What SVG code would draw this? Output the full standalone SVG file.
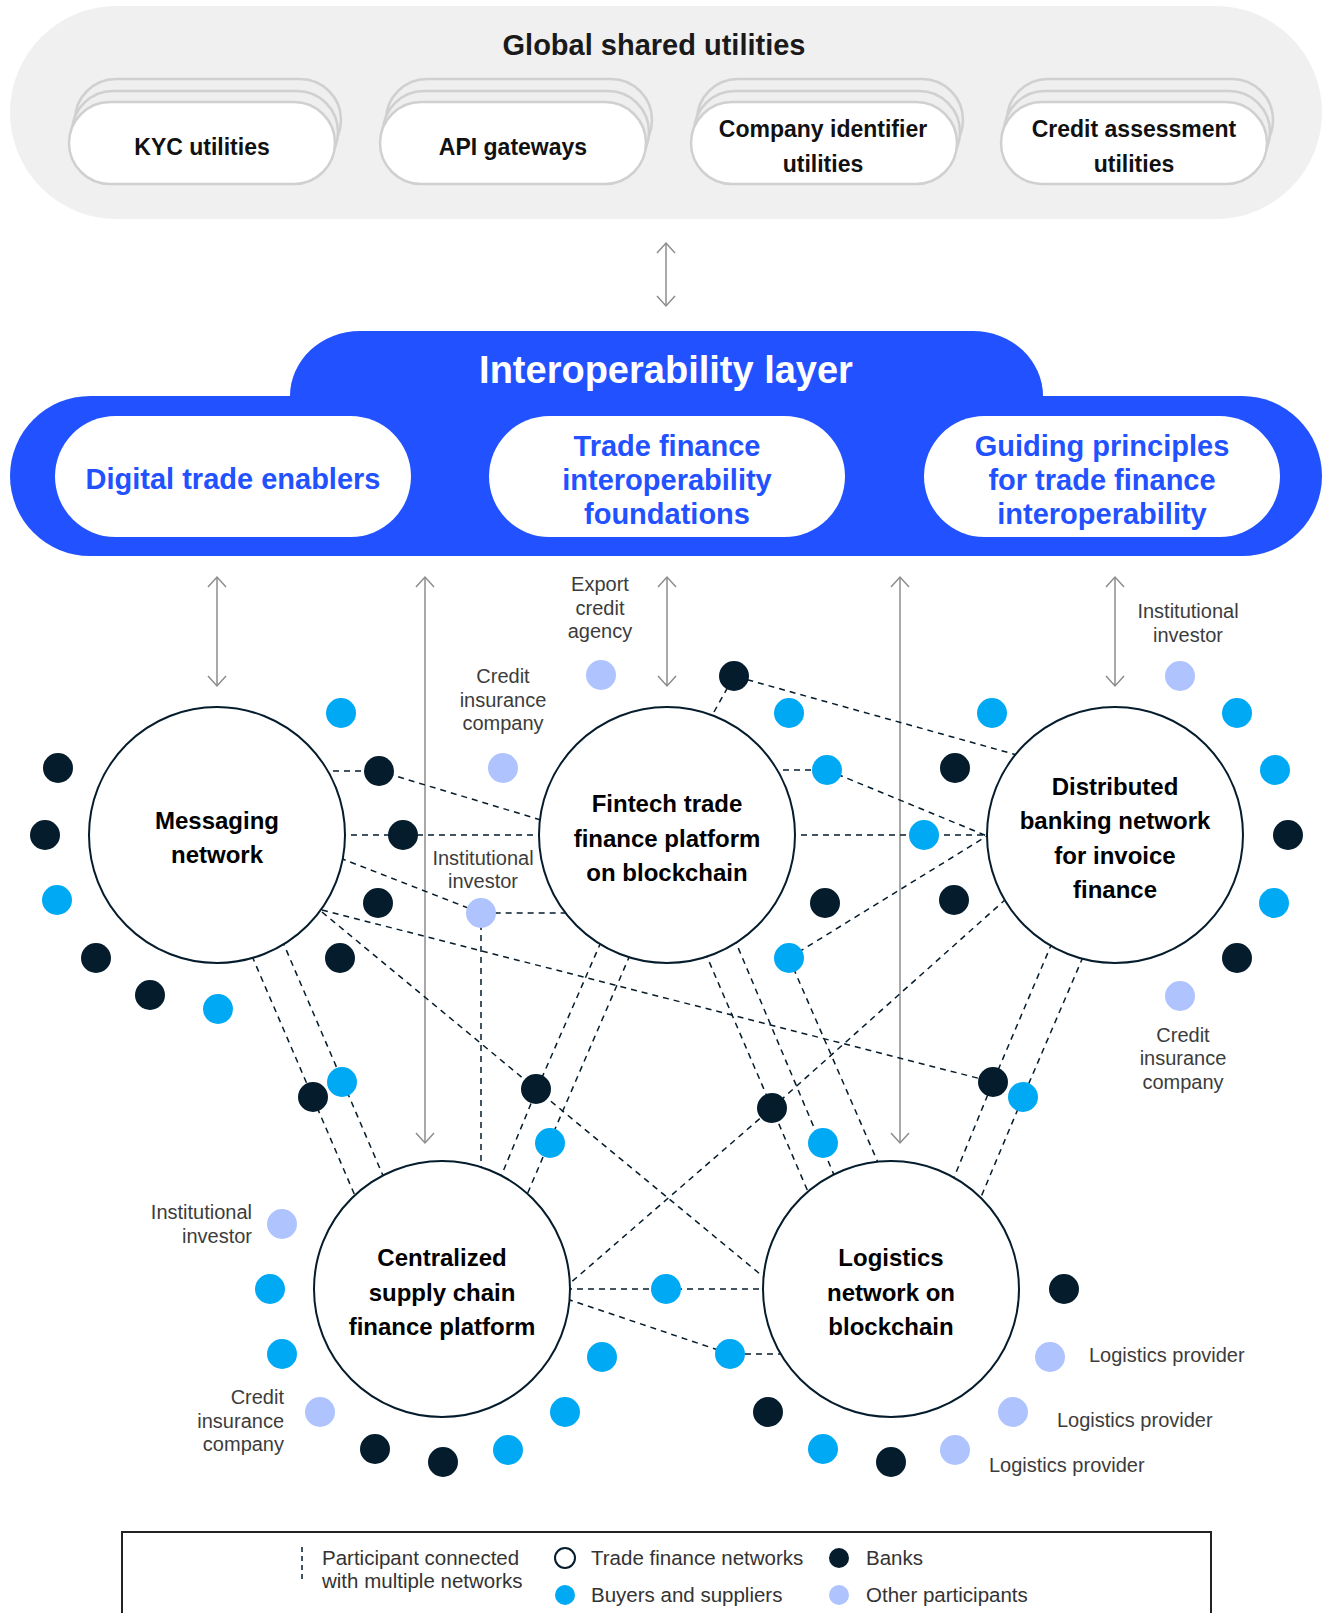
<svg xmlns="http://www.w3.org/2000/svg" width="1324" height="1613" viewBox="0 0 1324 1613">
<style>
.bg{fill:#f0f0f0}
.pb{fill:#efefef;stroke:#d0d0d0;stroke-width:2.5}
.pf{fill:#fff;stroke:#d0d0d0;stroke-width:2.5}
.blue{fill:#2251ff}
.ip{fill:#fff}
.net{fill:#fff;stroke:#051c2c;stroke-width:2}
.bank{fill:#051c2c}
.buyer{fill:#00a9f4}
.other{fill:#afc3ff}
.dash{fill:none;stroke:#051c2c;stroke-width:1.5;stroke-dasharray:6 5}
.arr{fill:none;stroke:#8c8c8c;stroke-width:1.5;marker-start:url(#ah);marker-end:url(#ah)}
.tt{font-family:"Liberation Sans",Arial,sans-serif;font-weight:bold;font-size:29px;fill:#1a1a1a;text-anchor:middle}
.tu{font-family:"Liberation Sans",Arial,sans-serif;font-weight:bold;font-size:23px;fill:#111;text-anchor:middle}
.ti{font-family:"Liberation Sans",Arial,sans-serif;font-weight:bold;font-size:38px;fill:#fff;text-anchor:middle}
.tp{font-family:"Liberation Sans",Arial,sans-serif;font-weight:bold;font-size:29px;fill:#2251ff;text-anchor:middle}
.tn{font-family:"Liberation Sans",Arial,sans-serif;font-weight:bold;font-size:24px;fill:#000;text-anchor:middle}
.tl{font-family:"Liberation Sans",Arial,sans-serif;font-size:20px;fill:#3c3c3c;text-anchor:middle}
.tr{text-anchor:end}
.ts{text-anchor:start}
.lg{font-family:"Liberation Sans",Arial,sans-serif;font-size:20.5px;fill:#333}
</style>
<defs>
<marker id="ah" viewBox="0 0 12 20" refX="11" refY="10" markerWidth="12" markerHeight="20" markerUnits="userSpaceOnUse" orient="auto-start-reverse" overflow="visible">
<path d="M1,1 L11,10 L1,19" fill="none" stroke="#8c8c8c" stroke-width="1.5"/>
</marker>
</defs>
<rect width="1324" height="1613" fill="#fff"/>

<g id="global-shared-utilities">
<rect class="bg" x="10" y="6" width="1312" height="213" rx="106.5"/>
<text class="tt" x="654" y="55">Global shared utilities</text>
</g>
<g id="kyc-utilities">
<rect class="pb" x="75" y="79" width="266" height="82" rx="41"/>
<rect class="pb" x="72" y="91" width="266" height="82" rx="41"/>
<rect class="pf" x="69" y="102" width="266" height="82" rx="41"/>
<text class="tu" x="202" y="155">KYC utilities</text>
</g>
<g id="api-gateways">
<rect class="pb" x="386" y="79" width="266" height="82" rx="41"/>
<rect class="pb" x="383" y="91" width="266" height="82" rx="41"/>
<rect class="pf" x="380" y="102" width="266" height="82" rx="41"/>
<text class="tu" x="513" y="155">API gateways</text>
</g>
<g id="company-identifier-utilities">
<rect class="pb" x="697" y="79" width="266" height="82" rx="41"/>
<rect class="pb" x="694" y="91" width="266" height="82" rx="41"/>
<rect class="pf" x="691" y="102" width="266" height="82" rx="41"/>
<text class="tu" x="823" y="137">Company identifier</text>
<text class="tu" x="823" y="172">utilities</text>
</g>
<g id="credit-assessment-utilities">
<rect class="pb" x="1007" y="79" width="266" height="82" rx="41"/>
<rect class="pb" x="1004" y="91" width="266" height="82" rx="41"/>
<rect class="pf" x="1001" y="102" width="266" height="82" rx="41"/>
<text class="tu" x="1134" y="137">Credit assessment</text>
<text class="tu" x="1134" y="172">utilities</text>
</g>

<g id="interoperability-layer">
<rect class="blue" x="290" y="331" width="753" height="140" rx="70" ry="65"/>
<rect class="blue" x="10" y="396" width="1312" height="160" rx="80"/>
<text class="ti" x="666" y="383">Interoperability layer</text>
</g>
<g id="digital-trade-enablers">
<rect class="ip" x="55" y="416" width="356" height="121" rx="60.5"/>
<text class="tp" x="233" y="489">Digital trade enablers</text>
</g>
<g id="trade-finance-interoperability-foundations">
<rect class="ip" x="489" y="416" width="356" height="121" rx="60.5"/>
<text class="tp" x="667" y="456">Trade finance</text>
<text class="tp" x="667" y="490">interoperability</text>
<text class="tp" x="667" y="524">foundations</text>
</g>
<g id="guiding-principles">
<rect class="ip" x="924" y="416" width="356" height="121" rx="60.5"/>
<text class="tp" x="1102" y="456">Guiding principles</text>
<text class="tp" x="1102" y="490">for trade finance</text>
<text class="tp" x="1102" y="524">interoperability</text>
</g>

<g id="connectors">
<line class="arr" x1="666" y1="243" x2="666" y2="306"/>
<line class="arr" x1="217" y1="577" x2="217" y2="686"/>
<line class="arr" x1="425" y1="577" x2="425" y2="1143"/>
<line class="arr" x1="667" y1="577" x2="667" y2="686"/>
<line class="arr" x1="900" y1="577" x2="900" y2="1143"/>
<line class="arr" x1="1115" y1="577" x2="1115" y2="686"/>

<polyline class="dash" points="322,771 379,771 541,820"/>
<line class="dash" x1="340" y1="835" x2="545" y2="835"/>
<polyline class="dash" points="340,858 481,913 570,913"/>
<line class="dash" x1="481" y1="913" x2="481" y2="1170"/>
<line class="dash" x1="322" y1="910" x2="993" y2="1082"/>
<polyline class="dash" points="322,912 536,1089 766,1279"/>
<line class="dash" x1="252" y1="956" x2="356" y2="1198"/>
<line class="dash" x1="282" y1="940" x2="384" y2="1178"/>
<polyline class="dash" points="601,942 537,1089 500,1179"/>
<polyline class="dash" points="630,955 549,1143 526,1197"/>
<polyline class="dash" points="705,952 772,1108 809,1194"/>
<line class="dash" x1="734" y1="938" x2="837" y2="1182"/>
<line class="dash" x1="789" y1="958" x2="879" y2="1165"/>
<polyline class="dash" points="714,712 734,676 1017,755"/>
<polyline class="dash" points="772,770 827,770 987,836"/>
<line class="dash" x1="790" y1="835" x2="987" y2="835"/>
<line class="dash" x1="789" y1="958" x2="987" y2="836"/>
<polyline class="dash" points="1006,899 772,1108 568,1285"/>
<line class="dash" x1="566" y1="1289" x2="766" y2="1289"/>
<polyline class="dash" points="567,1299 730,1354 784,1354"/>
<polyline class="dash" points="1052,943 993,1082 953,1180"/>
<polyline class="dash" points="1083,957 1023,1097 981,1197"/>
</g>

<g id="messaging-network">
<circle class="net" cx="217" cy="835" r="128"/>
<text class="tn" x="217" y="829">Messaging</text>
<text class="tn" x="217" y="863">network</text>
</g>
<g id="fintech-platform">
<circle class="net" cx="667" cy="835" r="128"/>
<text class="tn" x="667" y="812">Fintech trade</text>
<text class="tn" x="667" y="847">finance platform</text>
<text class="tn" x="667" y="881">on blockchain</text>
</g>
<g id="distributed-banking-network">
<circle class="net" cx="1115" cy="835" r="128"/>
<text class="tn" x="1115" y="795">Distributed</text>
<text class="tn" x="1115" y="829">banking network</text>
<text class="tn" x="1115" y="864">for invoice</text>
<text class="tn" x="1115" y="898">finance</text>
</g>
<g id="centralized-platform">
<circle class="net" cx="442" cy="1289" r="128"/>
<text class="tn" x="442" y="1266">Centralized</text>
<text class="tn" x="442" y="1301">supply chain</text>
<text class="tn" x="442" y="1335">finance platform</text>
</g>
<g id="logistics-network">
<circle class="net" cx="891" cy="1289" r="128"/>
<text class="tn" x="891" y="1266">Logistics</text>
<text class="tn" x="891" y="1301">network on</text>
<text class="tn" x="891" y="1335">blockchain</text>
</g>

<g id="participants-messaging">
<circle class="bank" cx="58" cy="768" r="15"/>
<circle class="bank" cx="45" cy="835" r="15"/>
<circle class="buyer" cx="57" cy="900" r="15"/>
<circle class="bank" cx="96" cy="958" r="15"/>
<circle class="bank" cx="150" cy="995" r="15"/>
<circle class="buyer" cx="218" cy="1009" r="15"/>
<circle class="buyer" cx="341" cy="713" r="15"/>
<circle class="bank" cx="379" cy="771" r="15"/>
<circle class="bank" cx="403" cy="835" r="15"/>
<circle class="bank" cx="378" cy="903" r="15"/>
<circle class="bank" cx="340" cy="958" r="15"/>
</g>
<g id="participants-fintech">
<circle class="bank" cx="734" cy="676" r="15"/>
<circle class="buyer" cx="789" cy="713" r="15"/>
<circle class="buyer" cx="827" cy="770" r="15"/>
<circle class="buyer" cx="924" cy="835" r="15"/>
<circle class="bank" cx="825" cy="903" r="15"/>
<circle class="buyer" cx="789" cy="958" r="15"/>
</g>
<g id="export-credit-agency">
<circle class="other" cx="601" cy="675" r="15"/>
<text class="tl" x="600" y="591">Export</text>
<text class="tl" x="600" y="615">credit</text>
<text class="tl" x="600" y="638">agency</text>
</g>
<g id="credit-insurance-1">
<circle class="other" cx="503" cy="768" r="15"/>
<text class="tl" x="503" y="683">Credit</text>
<text class="tl" x="503" y="707">insurance</text>
<text class="tl" x="503" y="730">company</text>
</g>
<g id="institutional-investor-1">
<circle class="other" cx="481" cy="913" r="15"/>
<text class="tl" x="483" y="865">Institutional</text>
<text class="tl" x="483" y="888">investor</text>
</g>
<g id="participants-distributed">
<circle class="buyer" cx="992" cy="713" r="15"/>
<circle class="bank" cx="955" cy="768" r="15"/>
<circle class="bank" cx="954" cy="900" r="15"/>
<circle class="buyer" cx="1237" cy="713" r="15"/>
<circle class="buyer" cx="1275" cy="770" r="15"/>
<circle class="bank" cx="1288" cy="835" r="15"/>
<circle class="buyer" cx="1274" cy="903" r="15"/>
<circle class="bank" cx="1237" cy="958" r="15"/>
</g>
<g id="institutional-investor-2">
<circle class="other" cx="1180" cy="676" r="15"/>
<text class="tl" x="1188" y="618">Institutional</text>
<text class="tl" x="1188" y="642">investor</text>
</g>
<g id="credit-insurance-2">
<circle class="other" cx="1180" cy="996" r="15"/>
<text class="tl" x="1183" y="1042">Credit</text>
<text class="tl" x="1183" y="1065">insurance</text>
<text class="tl" x="1183" y="1089">company</text>
</g>
<g id="participants-shared">
<circle class="bank" cx="313" cy="1097" r="15"/>
<circle class="buyer" cx="342" cy="1082" r="15"/>
<circle class="bank" cx="536" cy="1089" r="15"/>
<circle class="buyer" cx="550" cy="1143" r="15"/>
<circle class="bank" cx="772" cy="1108" r="15"/>
<circle class="buyer" cx="823" cy="1143" r="15"/>
<circle class="bank" cx="993" cy="1082" r="15"/>
<circle class="buyer" cx="1023" cy="1097" r="15"/>
<circle class="buyer" cx="666" cy="1289" r="15"/>
<circle class="buyer" cx="730" cy="1354" r="15"/>
</g>
<g id="participants-centralized">
<circle class="buyer" cx="270" cy="1289" r="15"/>
<circle class="buyer" cx="282" cy="1354" r="15"/>
<circle class="bank" cx="375" cy="1449" r="15"/>
<circle class="bank" cx="443" cy="1462" r="15"/>
<circle class="buyer" cx="508" cy="1450" r="15"/>
<circle class="buyer" cx="565" cy="1412" r="15"/>
<circle class="buyer" cx="602" cy="1357" r="15"/>
</g>
<g id="institutional-investor-3">
<circle class="other" cx="282" cy="1224" r="15"/>
<text class="tl tr" x="252" y="1219">Institutional</text>
<text class="tl tr" x="252" y="1243">investor</text>
</g>
<g id="credit-insurance-3">
<circle class="other" cx="320" cy="1412" r="15"/>
<text class="tl tr" x="284" y="1404">Credit</text>
<text class="tl tr" x="284" y="1428">insurance</text>
<text class="tl tr" x="284" y="1451">company</text>
</g>
<g id="participants-logistics">
<circle class="bank" cx="1064" cy="1289" r="15"/>
<circle class="bank" cx="768" cy="1412" r="15"/>
<circle class="buyer" cx="823" cy="1449" r="15"/>
<circle class="bank" cx="891" cy="1462" r="15"/>
</g>
<g id="logistics-provider-1">
<circle class="other" cx="1050" cy="1357" r="15"/>
<text class="tl ts" x="1089" y="1362">Logistics provider</text>
</g>
<g id="logistics-provider-2">
<circle class="other" cx="1013" cy="1412" r="15"/>
<text class="tl ts" x="1057" y="1427">Logistics provider</text>
</g>
<g id="logistics-provider-3">
<circle class="other" cx="955" cy="1450" r="15"/>
<text class="tl ts" x="989" y="1472">Logistics provider</text>
</g>

<g id="legend">
<path d="M122,1640 V1532 H1211 V1640" fill="none" stroke="#222" stroke-width="2"/>
<line x1="302" y1="1547" x2="302" y2="1582" stroke="#051c2c" stroke-width="1.5" stroke-dasharray="5 4"/>
<text class="lg" x="322" y="1565">Participant connected</text>
<text class="lg" x="322" y="1588">with multiple networks</text>
<circle cx="565" cy="1558" r="10" fill="#fff" stroke="#051c2c" stroke-width="2"/>
<text class="lg" x="591" y="1565">Trade finance networks</text>
<circle class="buyer" cx="565" cy="1595" r="10"/>
<text class="lg" x="591" y="1602">Buyers and suppliers</text>
<circle class="bank" cx="839" cy="1558" r="10"/>
<text class="lg" x="866" y="1565">Banks</text>
<circle class="other" cx="839" cy="1595" r="10"/>
<text class="lg" x="866" y="1602">Other participants</text>
</g>
</svg>
